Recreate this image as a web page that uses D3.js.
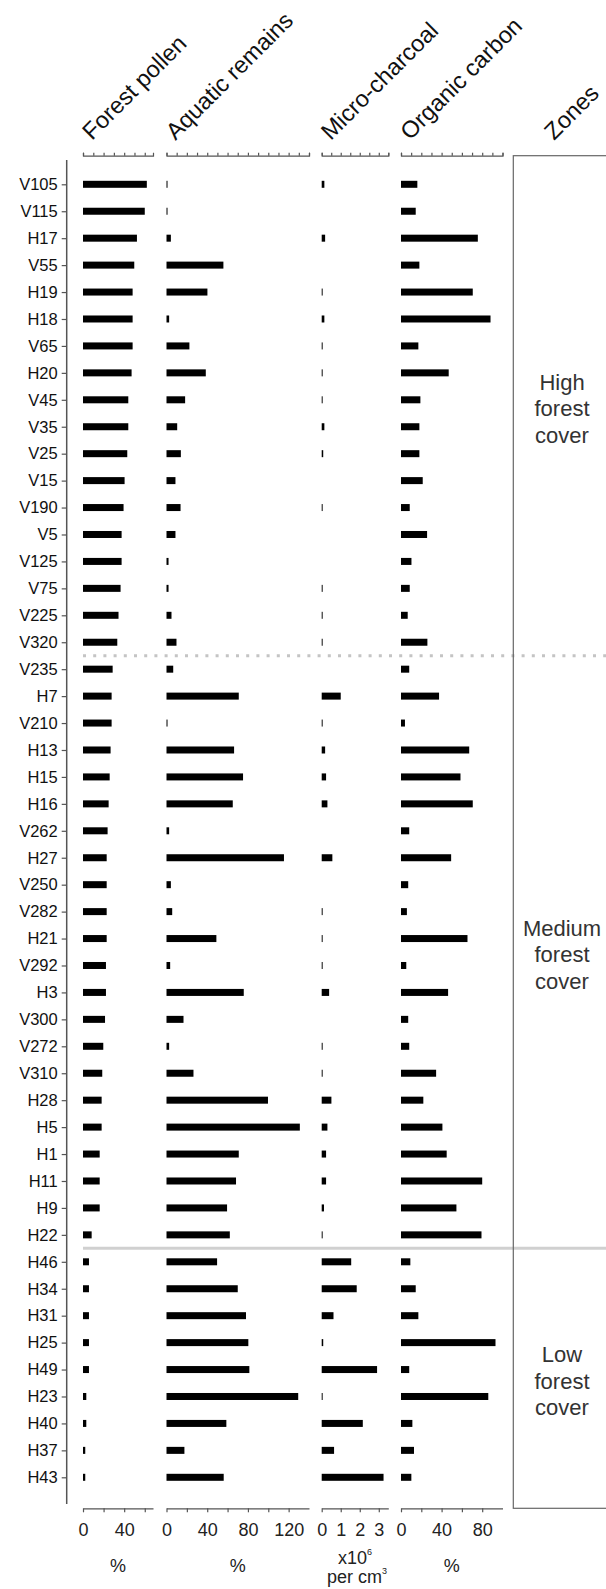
<!DOCTYPE html>
<html><head><meta charset="utf-8">
<script src="https://cdn.jsdelivr.net/npm/d3@7"></script>
<style>
html,body{margin:0;padding:0;background:#fff;}
svg{display:block;font-family:"Liberation Sans",Arial,sans-serif;}
</style></head>
<body>
<svg id="chart" width="606" height="1589"></svg>
<script>
// ---- data ----
const samples = ["V105","V115","H17","V55","H19","H18","V65","H20","V45","V35","V25","V15","V190","V5","V125","V75","V225","V320",
 "V235","H7","V210","H13","H15","H16","V262","H27","V250","V282","H21","V292","H3","V300","V272","V310","H28","H5","H1","H11","H9","H22",
 "H46","H34","H31","H25","H49","H23","H40","H37","H43"];
const forestPollen = [62,60,52.4,49.8,48.2,48.2,48.2,47.2,44,44,43,40.4,39.4,37.5,37.5,36.5,34.5,33.3,
 28.8,27.8,27.8,26.8,25.9,24.9,23.9,23,23,23,23,22.3,22.3,21.4,19.7,18.7,18.1,18.1,16.2,16.2,16.2,8.4,
 5.8,5.8,5.8,5.8,5.8,3.2,3.2,2.2,2.2];
const aquaticRemains = [1,1,4.3,55.9,40.2,2.6,22.5,38.6,18.3,10.5,14.1,8.8,13.8,8.8,2,2,4.9,9.8,
 6.6,71,1,66.4,75.2,65.1,2.6,115.4,4.3,5.6,49,3.6,75.9,16.7,2.6,26.5,99.7,131,71,68.3,59.5,62.2,
 49.7,70,78.1,80.4,81.4,129.4,58.8,17.6,56.2];
const microCharcoal = [0.14,0,0.18,0,0.05,0.14,0.05,0.05,0.05,0.14,0.08,0,0.05,0,0,0.05,0.05,0.05,
 0,1.0,0.05,0.18,0.23,0.3,0,0.56,0,0.05,0.05,0.05,0.39,0,0.05,0.05,0.51,0.3,0.23,0.23,0.12,0.05,
 1.55,1.84,0.62,0.08,2.91,0.05,2.16,0.65,3.25];
const organicCarbon = [16.1,14.5,75.7,18.1,70.7,88.2,17.1,47,19.1,18.1,18.1,21.4,8.6,25.7,10.3,8.6,6.6,26,
 8.1,37.5,3.9,67.2,58.6,70.7,8.1,49.4,7.1,5.8,65.5,5.2,46.4,7.1,8.1,34.6,22,40.8,45,80,54.6,79.3,
 9.2,14.5,17.1,93.1,8.1,86,11.2,12.8,10.2];
const panelTitles = ["Forest pollen","Aquatic remains","Micro-charcoal","Organic carbon"];
const panelDomains = [[0,68],[0,140],[0,3.5],[0,100]];
const topTickValues = [[0,10,20,30,40,50,60],[0,10,20,30,40,50,60,70,80,90,100,110,120,130,140],
 [0,0.5,1,1.5,2,2.5,3,3.5],[0,10,20,30,40,50,60,70,80,90,100]];
const bottomTickValues = [[0,20,40,60],[0,20,40,60,80,100,120],[0,1,2,3],[0,20,40,60,80]];
const bottomTickLabels = [["0","","40",""],["0","","40","","80","","120"],["0","1","2","3"],["0","","40","","80"]];
const unitLabels = ["%","%","x10|6|per cm|3","%"];
const zoneNames = [["High","forest","cover"],["Medium","forest","cover"],["Low","forest","cover"]];
const zonesTitle = "Zones";

// ---- layout ----
const svg = d3.select("#chart");
const font = '"Liberation Sans",Arial,sans-serif';
const axisColor = "#555";
const topAxisY = 155.7, bottomAxisY = 1508.3;
const y = d3.scalePoint().domain(samples).range([184.3, 1477.3]);
const ranges = [[83,153],[166.5,309],[321.7,388.3],[401,502.5]];
const xs = panelDomains.map((d,i)=>d3.scaleLinear().domain(d).range(ranges[i]));
const seriesList = [forestPollen, aquaticRemains, microCharcoal, organicCarbon];
const barH = 7;
const titleSize = "23.5px";

// separators
const sep1 = (y("V320")+y("V235"))/2;
const sep2 = (y("H22")+y("H46"))/2;
svg.append("line").attr("x1",83).attr("x2",606).attr("y1",sep1).attr("y2",sep1)
  .attr("stroke","#c4c4c4").attr("stroke-width",3).attr("stroke-dasharray","3 7.2");
svg.append("line").attr("x1",83).attr("x2",606).attr("y1",sep2).attr("y2",sep2)
  .attr("stroke","#d0d0d0").attr("stroke-width",3);

// left axis
const leftX = 66.7;
svg.append("line").attr("x1",leftX).attr("x2",leftX).attr("y1",160).attr("y2",1504)
  .attr("stroke",axisColor).attr("stroke-width",1.5);
const la = svg.append("g").attr("transform",`translate(${leftX},0)`)
  .call(d3.axisLeft(y).tickSize(5).tickPadding(4));
la.select(".domain").remove();
la.selectAll(".tick line").attr("stroke",axisColor).attr("stroke-width",1.2);
la.selectAll(".tick text").attr("font-size","16.5px").attr("font-family",font).attr("fill","#111");

// panels
seriesList.forEach((vals,i)=>{
  const x = xs[i];
  svg.append("g").selectAll("rect").data(vals).join("rect")
    .attr("x",x(0)).attr("y",(d,j)=>y(samples[j])-barH/2)
    .attr("width",d=>Math.max(0,x(d)-x(0))).attr("height",barH)
    .attr("fill","#000");
  const ta = svg.append("g").attr("transform",`translate(0,${topAxisY})`)
    .call(d3.axisTop(x).tickValues(topTickValues[i]).tickSize(3).tickSizeOuter(3).tickFormat(""));
  ta.select(".domain").attr("stroke",axisColor).attr("stroke-width",1.2);
  ta.selectAll(".tick line").attr("stroke",axisColor).attr("stroke-width",1.2);
  const ba = svg.append("g").attr("transform",`translate(0,${bottomAxisY})`)
    .call(d3.axisBottom(x).tickValues(bottomTickValues[i]).tickSize(4).tickSizeOuter(0).tickPadding(11)
      .tickFormat((d,k)=>bottomTickLabels[i][k]));
  ba.select(".domain").attr("stroke",axisColor).attr("stroke-width",1.2);
  ba.selectAll(".tick line").attr("stroke",axisColor).attr("stroke-width",1.2);
  ba.selectAll(".tick text").attr("font-size","18px").attr("font-family",font).attr("fill","#222");
  svg.append("text").attr("transform",`translate(${x(0)+9},141) rotate(-45)`)
    .attr("font-size",titleSize).attr("font-family",font).attr("fill","#111").text(panelTitles[i]);
  const cx = (ranges[i][0]+ranges[i][1])/2;
  const u = unitLabels[i].split("|");
  if (u.length===1){
    svg.append("text").attr("x",cx).attr("y",1572).attr("text-anchor","middle")
      .attr("font-size","18px").attr("font-family",font).attr("fill","#222").text(u[0]);
  } else {
    const t1 = svg.append("text").attr("x",cx).attr("y",1563.5).attr("text-anchor","middle")
      .attr("font-size","18px").attr("font-family",font).attr("fill","#222");
    t1.append("tspan").text(u[0]);
    t1.append("tspan").attr("font-size","9px").attr("dy",-9).text(u[1]);
    const t2 = svg.append("text").attr("x",cx+2).attr("y",1583).attr("text-anchor","middle")
      .attr("font-size","18px").attr("font-family",font).attr("fill","#222");
    t2.append("tspan").text(u[2]);
    t2.append("tspan").attr("font-size","9px").attr("dy",-9).text(u[3]);
  }
});

// zones
svg.append("rect").attr("x",513.3).attr("y",topAxisY).attr("width",200).attr("height",bottomAxisY-topAxisY)
  .attr("fill","none").attr("stroke","#666").attr("stroke-width",1.2);
svg.append("text").attr("transform",`translate(554,141) rotate(-45)`)
  .attr("font-size",titleSize).attr("font-family",font).attr("fill","#111").text(zonesTitle);
const zoneBounds = [topAxisY, sep1, sep2, bottomAxisY];
zoneNames.forEach((lines,k)=>{
  const mid = (zoneBounds[k]+zoneBounds[k+1])/2 + 2.5;
  const t = svg.append("text").attr("text-anchor","middle").attr("font-size","22px")
    .attr("font-family",font).attr("fill","#333");
  lines.forEach((ln,m)=>{
    t.append("tspan").attr("x",562).attr("y",mid+(m-1)*26.5+7.8).text(ln);
  });
});
</script>
</body></html>
